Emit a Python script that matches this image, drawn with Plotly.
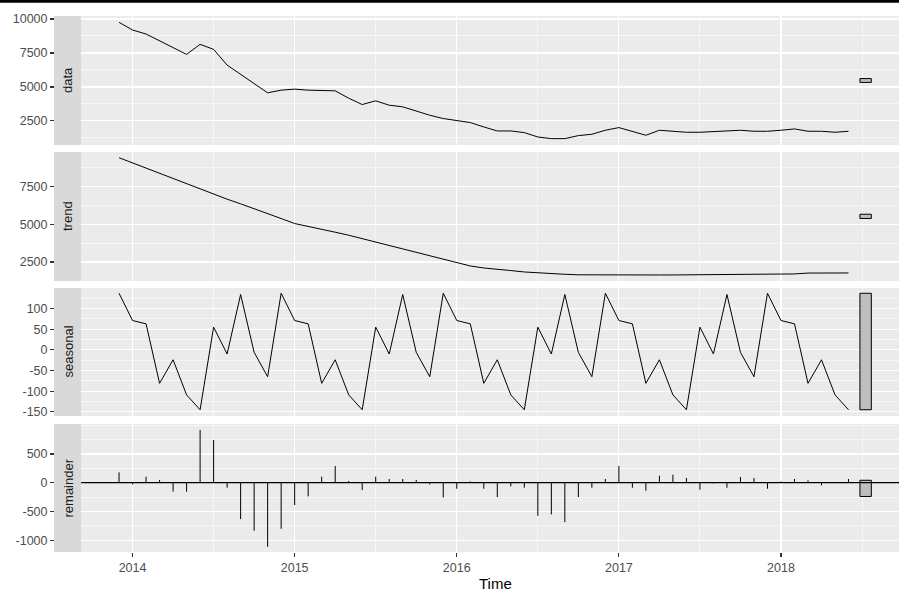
import plotly.graph_objects as go
import pandas as pd

# ---------------- data ----------------
months = pd.period_range("2013-12", "2018-06", freq="M")
time = [p.year + (p.month - 1) / 12 for p in months]

data_vals = [9754, 9189, 8894, 8387, 7885, 7396, 8133, 7764, 6608, 5919,
             5258, 4567, 4764, 4838, 4764, 4740, 4715, 4174, 3707, 3978,
             3658, 3536, 3215, 2920, 2676, 2502, 2379, 2058, 1763, 1763,
             1640, 1320, 1197, 1197, 1419, 1518, 1814, 2010, 1715, 1445,
             1814, 1740, 1666, 1666, 1715, 1715, 1814, 1740, 1740, 1814,
             1912, 1740, 1740, 1666, 1740]

trend_vals = [9396, 9051, 8710, 8357, 8025, 7672, 7340, 6987, 6655, 6346,
              6037, 5705, 5374, 5042, 4866, 4689, 4468, 4269, 4048, 3805,
              3562, 3341, 3120, 2899, 2678, 2460, 2235, 2102, 1996, 1930,
              1837, 1771, 1705, 1684, 1650, 1640, 1638, 1638, 1638, 1638,
              1638, 1640, 1645, 1655, 1700, 1700, 1702, 1704, 1705, 1706,
              1708, 1765, 1768, 1770, 1772]

seasonal_vals = [137,
                 71, 63, -81, -24, -109, -145, 55, -10, 134, -6, -65, 137,
                 71, 63, -81, -24, -109, -145, 55, -10, 134, -6, -65, 137,
                 71, 63, -81, -24, -109, -145, 55, -10, 134, -6, -65, 137,
                 71, 63, -81, -24, -109, -145, 55, -10, 134, -6, -65, 137,
                 71, 63, -81, -24, -109, -145]

remainder_vals = [180, -29, 105, 47, -157, -157, 919, 744, -87, -634,
                  -837, -1116, -802, -390, -238, 105, 291, 29, -128, 105,
                  64, 64, 47, -29, -256, -105, 23, -105, -250, -64,
                  -87, -576, -552, -686, -250, -87, 64, 291, -87, -140,
                  122, 140, 81, -122, -12, -87, 99, 81, -105, 23,
                  64, 41, -47, 5, 64]

panel_names = ["data", "trend", "seasonal", "remainder"]
year_ticks = [2014, 2015, 2016, 2017, 2018]
year_labels = ["2014", "2015", "2016", "2017", "2018"]

data_ticks = [2500, 5000, 7500, 10000]
data_labels = ["2500", "5000", "7500", "10000"]
trend_ticks = [2500, 5000, 7500]
trend_labels = ["2500", "5000", "7500"]
seasonal_ticks = [-150, -100, -50, 0, 50, 100]
seasonal_labels = ["-150", "-100", "-50", "0", "50", "100"]
remainder_ticks = [-1000, -500, 0, 500]
remainder_labels = ["-1000", "-500", "0", "500"]

# ---------------- layout geometry ----------------
W, H = 899, 592
panel_px = [(16, 145), (152, 281), (288, 416), (424, 552)]
y_ranges = [[729, 10220], [1240, 9775], [-160.1, 149.7], [-1206, 1022]]
minor_dticks = [1250, 1250, 25, 250]
x_range = [2013.682, 2018.728]
strip_x0, strip_x1 = 54, 81

series = [data_vals, trend_vals, seasonal_vals, remainder_vals]
ticks = [(data_ticks, data_labels), (trend_ticks, trend_labels),
         (seasonal_ticks, seasonal_labels), (remainder_ticks, remainder_labels)]

fig = go.Figure()

# line panels
for i in range(3):
    fig.add_trace(go.Scatter(x=time, y=series[i], mode="lines",
                             line=dict(color="black", width=1),
                             xaxis=f"x{i+1}" if i else "x",
                             yaxis=f"y{i+1}" if i else "y",
                             hoverinfo="skip", showlegend=False))

# remainder segments
seg_x, seg_y = [], []
for t, v in zip(time, remainder_vals):
    seg_x += [t, t, None]
    seg_y += [0, v, None]
fig.add_trace(go.Scatter(x=seg_x, y=seg_y, mode="lines",
                         line=dict(color="black", width=1),
                         xaxis="x4", yaxis="y4", hoverinfo="skip",
                         showlegend=False))

shapes = []
annotations = []

# range bars (forecast::autoplot style)
bar_len = min(max(s) - min(s) for s in series)
bar_w = (time[-1] - time[0]) / 64
for i, s in enumerate(series):
    mid = (max(s) + min(s)) / 2
    shapes.append(dict(type="rect",
                       xref=f"x{i+1}" if i else "x",
                       yref=f"y{i+1}" if i else "y",
                       x0=time[-1] + bar_w, x1=time[-1] + 2 * bar_w,
                       y0=mid - bar_len / 2, y1=mid + bar_len / 2,
                       fillcolor="#BEBEBE", line=dict(color="black", width=1),
                       layer="above"))

# zero line in remainder panel
shapes.append(dict(type="line", xref="x4 domain", yref="y4",
                   x0=0, x1=1, y0=0, y1=0,
                   line=dict(color="black", width=1.3), layer="above"))

layout_axes = {}
for i, ((top, bot), name) in enumerate(zip(panel_px, panel_names)):
    xs = "xaxis" if i == 0 else f"xaxis{i+1}"
    ys = "yaxis" if i == 0 else f"yaxis{i+1}"
    ydom = [1 - bot / H, 1 - top / H]
    last = (i == 3)
    layout_axes[xs] = dict(
        domain=[strip_x1 / W, 1], range=x_range,
        anchor="y" if i == 0 else f"y{i+1}",
        tickmode="array", tickvals=year_ticks, ticktext=year_labels,
        showticklabels=last, ticks="outside" if last else "",
        ticklen=4, tickwidth=1.1, tickcolor="#333333",
        tickfont=dict(size=12.5, color="#4D4D4D"),
        showgrid=True, gridcolor="white", gridwidth=1.1,
        minor=dict(tickmode="linear", tick0=2013.5, dtick=0.5,
                   showgrid=True, gridcolor="white", gridwidth=0.55),
        zeroline=False, showline=False, automargin=False, fixedrange=True)
    tv, tt = ticks[i]
    layout_axes[ys] = dict(
        domain=ydom, range=y_ranges[i], anchor="free",
        position=strip_x0 / W,
        tickmode="array", tickvals=tv, ticktext=tt,
        ticks="outside", ticklen=4, tickwidth=1.1, tickcolor="#333333",
        tickfont=dict(size=12.5, color="#4D4D4D"),
        showgrid=True, gridcolor="white", gridwidth=1.1,
        minor=dict(tickmode="linear", tick0=0, dtick=minor_dticks[i],
                   showgrid=True, gridcolor="white", gridwidth=0.55),
        zeroline=False, showline=False, automargin=False, fixedrange=True)
    # strip
    shapes.append(dict(type="rect", xref="paper", yref="paper",
                       x0=strip_x0 / W, x1=strip_x1 / W,
                       y0=ydom[0], y1=ydom[1],
                       fillcolor="#D9D9D9", line=dict(width=0), layer="below"))
    annotations.append(dict(text=name, xref="paper", yref="paper",
                            x=(strip_x0 + strip_x1) / 2 / W,
                            y=(ydom[0] + ydom[1]) / 2,
                            textangle=-90, showarrow=False,
                            xanchor="center", yanchor="middle",
                            font=dict(size=13, color="#1A1A1A")))

# x-axis title
annotations.append(dict(text="Time", xref="paper", yref="paper",
                        x=495 / W, y=1 - 583.5 / H, showarrow=False,
                        xanchor="center", yanchor="middle",
                        font=dict(size=15, color="black")))

# black band at top edge of the image
shapes.append(dict(type="rect", xref="paper", yref="paper",
                   x0=0, x1=1, y0=1 - 2.7 / H, y1=1,
                   fillcolor="black", line=dict(width=0), layer="above"))

fig.update_layout(
    template="none",
    width=W, height=H,
    margin=dict(l=0, r=0, t=0, b=0),
    paper_bgcolor="white", plot_bgcolor="#EBEBEB",
    font=dict(family="Liberation Sans, Arial, sans-serif", color="#4D4D4D"),
    showlegend=False,
    shapes=shapes, annotations=annotations,
    **layout_axes)

fig.write_html("out.html",
               config={"displayModeBar": False, "staticPlot": True},
               post_script="document.body.style.margin='0px';"
                           "document.body.style.padding='0px';"
                           "document.body.style.overflow='hidden';")
